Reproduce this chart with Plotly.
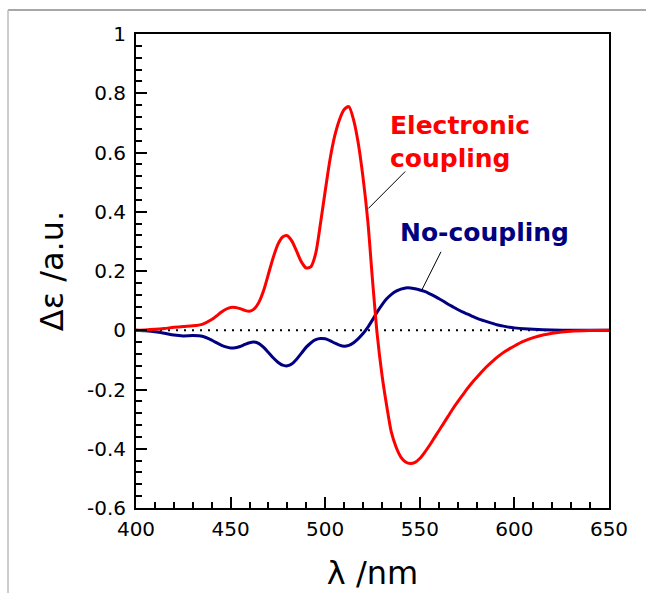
import numpy as np
import plotly.graph_objects as go

# Electronic coupling (red)
wl_red = [400, 405, 410, 415, 420, 425, 430, 435, 440, 442.5, 445, 447.5, 450, 452.5, 455,
          457.5, 460, 462.5, 465, 467.5, 470, 472.5, 475, 477.5, 480, 482.5, 485, 487.5, 490,
          492.5, 495, 497.5, 500, 502.5, 505, 507.5, 510, 512.5, 515, 517.5, 520, 522.5, 525,
          527.5, 530, 532.5, 535, 537.5, 540, 542.5, 545, 547.5, 550, 552.5, 555, 557.5, 560,
          562.5, 565, 567.5, 570, 572.5, 575, 577.5, 580, 582.5, 585, 587.5, 590, 592.5, 595,
          597.5, 600, 605, 610, 615, 620, 625, 630, 640, 650]
de_red = [0, 0.001, 0.003, 0.006, 0.01, 0.013, 0.015, 0.02, 0.036, 0.048, 0.061, 0.071, 0.077,
          0.077, 0.073, 0.067, 0.064, 0.072, 0.095, 0.135, 0.19, 0.245, 0.29, 0.315, 0.319, 0.3,
          0.265, 0.23, 0.21, 0.215, 0.26, 0.36, 0.47, 0.575, 0.655, 0.71, 0.745, 0.755, 0.71,
          0.63, 0.515, 0.37, 0.17, -0.015, -0.15, -0.255, -0.345, -0.395, -0.428, -0.445, -0.45,
          -0.446, -0.433, -0.413, -0.39, -0.365, -0.34, -0.315, -0.29, -0.265, -0.242, -0.22,
          -0.198, -0.178, -0.16, -0.142, -0.125, -0.11, -0.096, -0.083, -0.072, -0.062, -0.053,
          -0.037, -0.025, -0.016, -0.01, -0.006, -0.003, -0.001, 0]

# No-coupling (navy)
wl_blue = [400, 405, 410, 415, 420, 425, 430, 435, 440, 442.5, 445, 447.5, 450, 452.5, 455,
           457.5, 460, 462.5, 465, 467.5, 470, 472.5, 475, 477.5, 480, 482.5, 485, 487.5, 490,
           492.5, 495, 497.5, 500, 502.5, 505, 507.5, 510, 512.5, 515, 517.5, 520, 522.5, 525,
           527.5, 530, 532.5, 535, 537.5, 540, 542.5, 545, 547.5, 550, 552.5, 555, 557.5, 560,
           562.5, 565, 567.5, 570, 572.5, 575, 577.5, 580, 582.5, 585, 587.5, 590, 592.5, 595,
           597.5, 600, 605, 610, 620, 630, 650]
de_blue = [0, -0.002, -0.005, -0.01, -0.016, -0.019, -0.018, -0.02, -0.033, -0.042, -0.05,
           -0.056, -0.06, -0.059, -0.055, -0.048, -0.042, -0.04, -0.045, -0.058, -0.075, -0.093,
           -0.108, -0.118, -0.12, -0.113, -0.097, -0.077, -0.057, -0.042, -0.032, -0.028,
           -0.029, -0.035, -0.043, -0.05, -0.054, -0.051, -0.042, -0.028, -0.011, 0.01, 0.035,
           0.062, 0.086, 0.106, 0.121, 0.132, 0.139, 0.143, 0.143, 0.14, 0.136, 0.131, 0.124,
           0.116, 0.107, 0.098, 0.088, 0.079, 0.07, 0.062, 0.055, 0.048, 0.041, 0.035, 0.03,
           0.025, 0.02, 0.016, 0.013, 0.01, 0.008, 0.005, 0.003, 0.001, 0, 0]

x_range = [400, 650]
y_range = [-0.6, 1.0]
x_ticks = [400, 450, 500, 550, 600, 650]
x_ticktext = ["400", "450", "500", "550", "600", "650"]
y_ticks = [-0.6, -0.4, -0.2, 0, 0.2, 0.4, 0.6, 0.8, 1]
y_ticktext = ["-0.6", "-0.4", "-0.2", "0", "0.2", "0.4", "0.6", "0.8", "1"]

FONT = "DejaVu Sans"
RED = "#ff0000"
NAVY = "#000080"

fig = go.Figure()
fig.add_trace(go.Scatter(x=x_range, y=[0, 0], mode="lines",
                         line=dict(color="black", width=2, dash="2px,6px"), hoverinfo="skip"))
fig.add_trace(go.Scatter(x=wl_blue, y=de_blue, mode="lines",
                         line=dict(color=NAVY, width=3, shape="spline", smoothing=0.7)))
fig.add_trace(go.Scatter(x=wl_red, y=de_red, mode="lines",
                         line=dict(color=RED, width=3, shape="spline", smoothing=0.7)))

axis_common = dict(showgrid=False, zeroline=False, showline=True, linecolor="black",
                   linewidth=2, mirror=True, ticks="inside", ticklen=11, tickwidth=1.5,
                   tickcolor="black", tickfont=dict(family=FONT, size=20, color="black"),
                   tickmode="array", automargin=False)

fig.update_xaxes(range=x_range, tickvals=x_ticks, ticktext=x_ticktext,
                 minor=dict(ticks="inside", ticklen=6, tickwidth=1.5, tickcolor="black",
                            tick0=400, dtick=10),
                 title=dict(text="λ /nm", font=dict(family=FONT, size=32, color="black"),
                            standoff=22),
                 ticklabelstandoff=2, **axis_common)
fig.update_yaxes(range=y_range, tickvals=y_ticks, ticktext=y_ticktext,
                 minor=dict(ticks="inside", ticklen=6, tickwidth=1.5, tickcolor="black",
                            tick0=0, dtick=0.04),
                 title=dict(text="Δε /a.u.", font=dict(family=FONT, size=32, color="black"),
                            standoff=14),
                 ticklabelstandoff=4, **axis_common)

ann_font_red = dict(family=FONT, size=25, color=RED, weight="bold")
ann_font_blue = dict(family=FONT, size=25, color=NAVY, weight="bold")
fig.add_annotation(x=533.2, y=0.635, xref="x", yref="y", text="<b>Electronic<br>coupling</b>",
                   showarrow=False, xanchor="left", yanchor="middle", align="left",
                   font=ann_font_red)
fig.add_annotation(x=538.5, y=0.331, xref="x", yref="y", text="<b>No-coupling</b>",
                   showarrow=False, xanchor="left", yanchor="middle", font=ann_font_blue)
# leader lines
fig.add_annotation(x=522.8, y=0.411, ax=543.1, ay=0.541, xref="x", yref="y", axref="x",
                   ayref="y", text="", showarrow=True, arrowhead=0, arrowwidth=1,
                   arrowcolor="black", standoff=0, startstandoff=0)
fig.add_annotation(x=551.0, y=0.135, ax=561.6, ay=0.270, xref="x", yref="y", axref="x",
                   ayref="y", text="", showarrow=True, arrowhead=0, arrowwidth=1,
                   arrowcolor="black", standoff=0, startstandoff=0)

# outer gray frame (top and left)
fig.add_shape(type="line", xref="paper", yref="paper", x0=-0.2706, x1=1.3, y0=1.0506, y1=1.0506,
              line=dict(color="#8a8a8a", width=1.5))
fig.add_shape(type="line", xref="paper", yref="paper", x0=-0.2706, x1=-0.2706, y0=1.0506, y1=-0.3,
              line=dict(color="#bcbcbc", width=1.5))

fig.update_layout(width=646, height=593, margin=dict(l=136, r=37, t=34, b=85),
                  plot_bgcolor="white", paper_bgcolor="white", showlegend=False,
                  font=dict(family=FONT))

fig.write_html("out.html", config={"displayModeBar": False})
